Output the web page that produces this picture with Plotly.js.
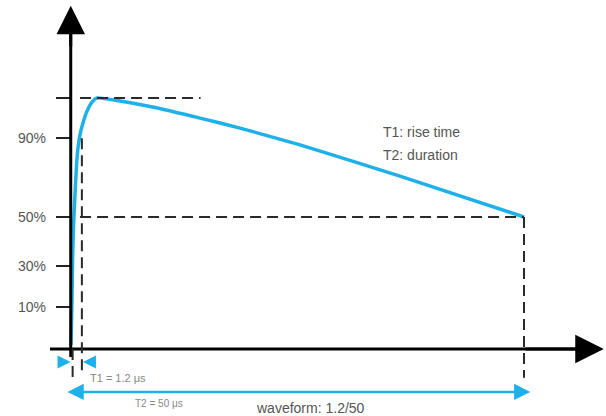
<!DOCTYPE html>
<html>
<head>
<meta charset="utf-8">
<script src="https://cdn.plot.ly/plotly-3.0.1.min.js"></script>
<style>html,body{margin:0;padding:0;background:#fff}#chart{width:606px;height:416px}</style>
</head>
<body>
<div id="chart"></div>
<script>
// Waveform 1.2/50 (schematic): time in microseconds, amplitude in schematic level units (peak = 100)
const timeUs = [0, 0.11, 0.17, 0.28, 0.44, 0.61, 0.77, 0.99, 1.32, 1.77, 2.32, 2.87, 5.41, 8.72, 14.24, 18.65, 25.28, 36.31, 50];
const amplitude = [1.6, 19.5, 35.5, 49.4, 61.4, 73.3, 80.1, 85.3, 90.0, 94.8, 98.4, 100, 98.8, 96.6, 92.0, 88.0, 81.3, 68.9, 52.6];
const tickLevels = [16.7, 33, 52.6, 84, 100];
const tickLabels = ['10%', '30%', '50%', '90%', ''];
const T1 = 1.2, T2 = 50;
const peakLevel = 100, halfLevel = 52.6, ninetyLevel = 84;
const noteLines = ['T1: rise time', 'T2: duration'];
const t1Label = 'T1 = 1.2 μs', t2Label = 'T2 = 50 μs', waveLabel = 'waveform: 1.2/50';

const blue = '#1eb0e8', dashCol = '#2a2a2a', txt = '#555';
const xr = [-7.837, 59.05], yr = [-26.69, 139.04];
const dash = '11px,6px';

const shapes = [
  {type:'line', xref:'x', yref:'y', x0:-2.32, x1:56, y0:0, y1:0, line:{color:'#000', width:3}},
  {type:'line', xref:'x', yref:'y', x0:-0.03, x1:-0.03, y0:-3.2, y1:130, line:{color:'#000', width:3}},
  {type:'line', xref:'x', yref:'y', x0:1.0, x1:14.3, y0:peakLevel, y1:peakLevel, line:{color:dashCol, width:2, dash:dash}},
  {type:'line', xref:'x', yref:'y', x0:1.0, x1:T2, y0:halfLevel, y1:halfLevel, line:{color:dashCol, width:2, dash:dash}},
  {type:'line', xref:'x', yref:'y', x0:T1, x1:T1, y0:ninetyLevel, y1:-9.6, line:{color:dashCol, width:2, dash:dash}},
  {type:'line', xref:'x', yref:'y', x0:T2, x1:T2, y0:halfLevel, y1:-11.5, line:{color:dashCol, width:2, dash:dash}},
  {type:'line', xref:'x', yref:'y', x0:0.18, x1:0.18, y0:0, y1:-11.5, line:{color:dashCol, width:2, dash:dash}}
];

const annotations = [
  {x:58.8, y:0, ax:50, ay:0, axref:'x', ayref:'y', xref:'x', yref:'y', showarrow:true, arrowhead:2, arrowsize:1.9, arrowwidth:3, arrowcolor:'#000', text:''},
  {x:-0.03, y:136.7, ax:-0.03, ay:120, axref:'x', ayref:'y', xref:'x', yref:'y', showarrow:true, arrowhead:2, arrowsize:1.9, arrowwidth:3, arrowcolor:'#000', text:''},
  {x:-0.05, y:-5.2, ax:-1.4, ay:-5.2, axref:'x', ayref:'y', xref:'x', yref:'y', showarrow:true, arrowhead:2, arrowsize:1.3, arrowwidth:2, arrowcolor:blue, text:''},
  {x:1.32, y:-5.2, ax:2.85, ay:-5.2, axref:'x', ayref:'y', xref:'x', yref:'y', showarrow:true, arrowhead:2, arrowsize:1.3, arrowwidth:2, arrowcolor:blue, text:''},
  {x:50.7, y:-17.1, ax:-0.55, ay:-17.1, axref:'x', ayref:'y', xref:'x', yref:'y', showarrow:true, arrowhead:2, startarrowhead:2, arrowside:'end+start', arrowsize:1.3, startarrowsize:1.3, arrowwidth:2.5, arrowcolor:blue, text:''},
  {x:34.2, y:86.5, xref:'x', yref:'y', xanchor:'left', yanchor:'middle', showarrow:false, text:noteLines[0], font:{size:14, color:txt}},
  {x:34.2, y:77.3, xref:'x', yref:'y', xanchor:'left', yanchor:'middle', showarrow:false, text:noteLines[1], font:{size:14, color:txt}},
  {x:1.88, y:-11.6, xref:'x', yref:'y', xanchor:'left', yanchor:'middle', showarrow:false, text:t1Label, font:{size:11, color:'#888'}},
  {x:6.84, y:-21.9, xref:'x', yref:'y', xanchor:'left', yanchor:'middle', showarrow:false, text:t2Label, font:{size:10, color:'#888'}},
  {x:20.2, y:-23.5, xref:'x', yref:'y', xanchor:'left', yanchor:'middle', showarrow:false, text:waveLabel, font:{size:14, color:txt}}
];

const data = [{
  x: timeUs, y: amplitude, type:'scatter', mode:'lines',
  line:{color:blue, width:3.5, shape:'spline', smoothing:0.5}, hoverinfo:'skip', cliponaxis:false
}];

const layout = {
  width:606, height:416, margin:{l:0, r:0, t:0, b:0},
  paper_bgcolor:'#fff', plot_bgcolor:'#fff', showlegend:false,
  font:{family:'Liberation Sans, Arial, sans-serif'},
  xaxis:{range:xr, visible:false, fixedrange:true},
  yaxis:{range:yr, anchor:'free', position:0.1167, tickmode:'array', tickvals:tickLevels, ticktext:tickLabels,
    ticks:'outside', ticklen:15, tickwidth:1.5, tickcolor:'#222', showline:false, showgrid:false, zeroline:false,
    ticklabelstandoff:7, tickfont:{size:14, color:txt}, fixedrange:true},
  shapes: shapes, annotations: annotations
};
Plotly.newPlot('chart', data, layout, {displayModeBar:false, staticPlot:true});
</script>
</body>
</html>
